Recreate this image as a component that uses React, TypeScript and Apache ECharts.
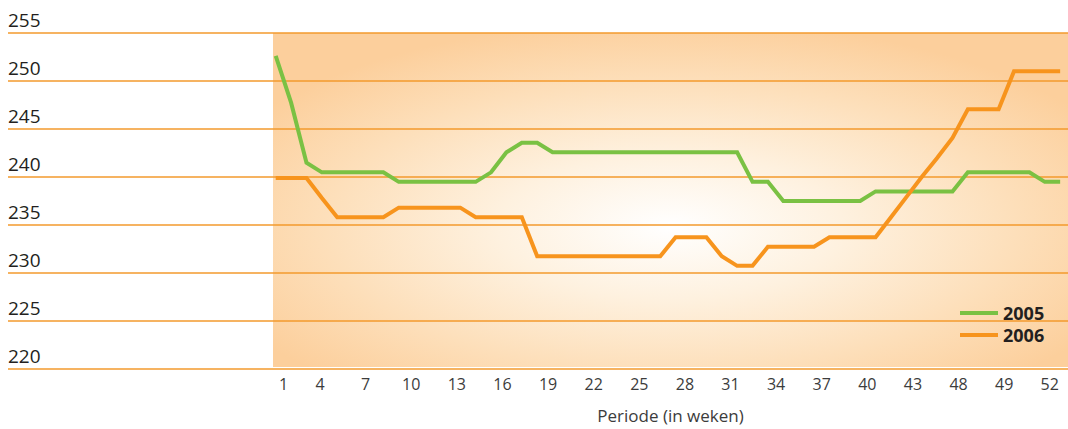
import React, { useEffect, useRef } from "react";
import * as echarts from "echarts";

const weeks = [
  1, 2, 3, 4, 5, 6, 7, 8, 9, 10, 11, 12, 13, 14, 15, 16, 17, 18, 19, 20, 21, 22, 23, 24, 25, 26,
  27, 28, 29, 30, 31, 32, 33, 34, 35, 36, 37, 38, 39, 40, 41, 42, 43, 44, 45, 46, 47, 48, 49, 50, 51, 52,
];

const tickLabels = ["1", "4", "7", "10", "13", "16", "19", "22", "25", "28", "31", "34", "37", "40", "43", "48", "49", "52"];

const values2005 = [
  252.6, 247.7, 241.4, 240.4, 240.4, 240.4, 240.4, 240.4, 239.4, 239.4, 239.4, 239.4, 239.4,
  239.4, 240.4, 242.5, 243.5, 243.5, 242.5, 242.5, 242.5, 242.5, 242.5, 242.5, 242.5, 242.5,
  242.5, 242.5, 242.5, 242.5, 242.5, 239.4, 239.4, 237.4, 237.4, 237.4, 237.4, 237.4, 237.4,
  238.4, 238.4, 238.4, 238.4, 238.4, 238.4, 240.4, 240.4, 240.4, 240.4, 240.4, 239.4, 239.4,
];

const values2006 = [
  239.8, 239.8, 239.8, 237.7, 235.7, 235.7, 235.7, 235.7, 236.7, 236.7, 236.7, 236.7, 236.7,
  235.7, 235.7, 235.7, 235.7, 231.6, 231.6, 231.6, 231.6, 231.6, 231.6, 231.6, 231.6, 231.6,
  233.6, 233.6, 233.6, 231.6, 230.6, 230.6, 232.6, 232.6, 232.6, 232.6, 233.6, 233.6, 233.6,
  233.6, 235.7, 237.8, 239.9, 241.9, 244.0, 247.0, 247.0, 247.0, 251.0, 251.0, 251.0, 251.0,
];

const FONT = "'Open Sans', 'Noto Sans', sans-serif";
const GRID_COLOR = "#F39A2C";
const GREEN = "#7AC143";
const ORANGE = "#F7941D";

export default function App() {
  const ref = useRef<HTMLDivElement>(null);

  useEffect(() => {
    const chart = echarts.init(ref.current!, null, { renderer: "svg" });
    chart.setOption({
      animation: false,
      grid: [
        { left: 8, right: 0, top: 33, bottom: 60 },
        {
          left: 273,
          right: 0,
          top: 33,
          bottom: 60,
          show: true,
          borderWidth: 0,
          backgroundColor: {
            type: "radial",
            x: 0.5,
            y: 0.58,
            r: 0.62,
            colorStops: [
              { offset: 0, color: "#FFFFFF" },
              { offset: 0.35, color: "#FEF1DF" },
              { offset: 0.7, color: "#FDDFBA" },
              { offset: 1, color: "#FCCF9C" },
            ],
          },
        },
      ],
      legend: {
        data: ["2005", "2006"],
        orient: "vertical",
        left: 960,
        top: 302,
        padding: 0,
        itemGap: 0,
        itemWidth: 38,
        itemHeight: 4,
        icon: "rect",
        textStyle: { fontFamily: FONT, fontSize: 18, fontWeight: "bold", color: "#231F20", lineHeight: 22 },
      },
      xAxis: [
        { gridIndex: 0, type: "value", min: 0, max: 1, show: false },
        { gridIndex: 1, type: "value", min: 0.824, max: 52.51, show: false },
        {
          gridIndex: 1,
          type: "value",
          position: "bottom",
          min: -0.031,
          max: 17.4,
          axisLine: { show: false },
          axisTick: { show: false },
          splitLine: { show: false },
          axisLabel: {
            customValues: tickLabels.map((_, j) => (j === 0 ? 0.2 : j)),
            formatter: (v: number) => tickLabels[Math.round(v)] ?? "",
            fontFamily: FONT,
            fontSize: 16,
            color: "#3C3C3C",
            margin: 9,
          },
          name: "Periode (in weken)",
          nameLocation: "middle",
          nameGap: 40,
          nameTextStyle: { fontFamily: FONT, fontSize: 17, color: "#3C3C3C" },
        },
      ],
      yAxis: [
        {
          gridIndex: 0,
          type: "value",
          min: 220,
          max: 255,
          interval: 5,
          axisLine: { show: false },
          axisTick: { show: false },
          splitLine: { show: true, lineStyle: { color: GRID_COLOR, width: 1.5, type: "solid", opacity: 1 } },
          axisLabel: {
            inside: true,
            margin: 0,
            verticalAlign: "bottom",
            padding: [0, 0, 4, 0],
            fontFamily: FONT,
            fontSize: 19,
            color: "#231F20",
          },
        },
        { gridIndex: 1, type: "value", min: 220, max: 255, show: false },
      ],
      series: [
        {
          name: "2005",
          type: "line",
          xAxisIndex: 1,
          yAxisIndex: 1,
          data: weeks.map((w, i) => [w, values2005[i]]),
          symbol: "none",
          lineStyle: { width: 4, color: GREEN, join: "miter" },
          itemStyle: { color: GREEN },
          z: 3,
        },
        {
          name: "2006",
          type: "line",
          xAxisIndex: 1,
          yAxisIndex: 1,
          data: weeks.map((w, i) => [w, values2006[i]]),
          symbol: "none",
          lineStyle: { width: 4, color: ORANGE, join: "miter" },
          itemStyle: { color: ORANGE },
          z: 4,
        },
      ],
    });
    return () => chart.dispose();
  }, []);

  return <div ref={ref} style={{ position: "absolute", left: 0, top: 0, width: 1068, height: 429 }} />;
}
